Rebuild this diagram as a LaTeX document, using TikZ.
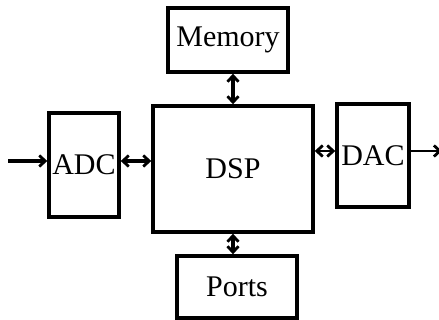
\documentclass[tikz,border=0pt]{standalone}
\usepackage{fontspec}
\setmainfont{Liberation Serif}
\usetikzlibrary{arrows.meta}
\begin{document}
\begin{tikzpicture}[x=1pt,y=-1pt,
  blk/.style={draw, line width=3.4pt, inner sep=0pt, font=\fontsize{30}{34}\selectfont},
  tip/.style={Straight Barb[length=6pt,width=11pt,line width=2.8pt]},
  conn/.style={line width=3.2pt, {Straight Barb[length=6pt,width=11pt,line width=2.8pt]}-{Straight Barb[length=6pt,width=11pt,line width=2.8pt]}},
  oneway/.style={line width=3.2pt, -{Straight Barb[length=6pt,width=11pt,line width=2.8pt]}}
]
\useasboundingbox (0,0) rectangle (439,320);
\node[blk, minimum width=70pt, minimum height=104pt] (adc) at (84,165) {ADC};
\node[blk, minimum width=160pt, minimum height=126pt] (dsp) at (233,169) {DSP};
\node[blk, minimum width=120pt, minimum height=64pt] (mem) at (228,40) {Memory};
\node[blk, minimum width=120pt, minimum height=62pt] (ports) at (237,287) {Ports};
\node[blk, minimum width=72pt, minimum height=103pt] (dac) at (373,155.5) {DAC};
\coordinate (in) at (8,161);
\coordinate (out) at (442,151);
\draw[oneway] (in) -- (adc.west |- in);
\draw[conn] (adc.east |- in) -- (dsp.west |- in);
\draw[conn, line width=2.6pt] (dsp.east |- out) -- (dac.west |- out);
\draw[oneway, line width=2.4pt] (dac.east |- out) -- (out);
\draw[conn] (mem.south -| dsp.north) -- (dsp.north);
\draw[conn] (dsp.south) -- (ports.north -| dsp.south);
\end{tikzpicture}
\end{document}
